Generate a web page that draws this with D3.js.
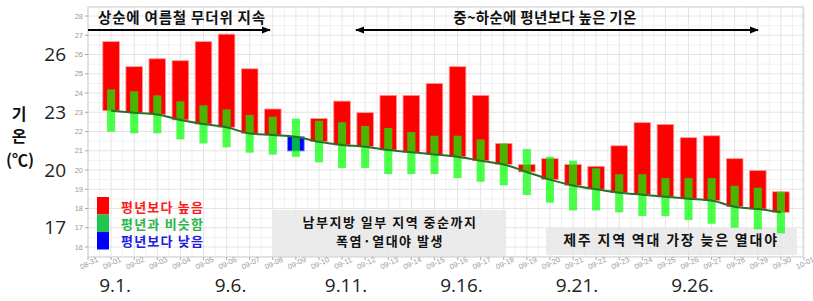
<!DOCTYPE html>
<html><head><meta charset="utf-8">
<script src="https://cdn.jsdelivr.net/npm/d3@7"></script>
<style>
html,body{margin:0;padding:0;background:#fff;}
svg{display:block;}
</style>
</head><body>
<svg id="c" width="813" height="301"></svg>
<script>
// ---- data ----
const dates = ["09-01","09-02","09-03","09-04","09-05","09-06","09-07","09-08","09-09","09-10",
  "09-11","09-12","09-13","09-14","09-15","09-16","09-17","09-18","09-19","09-20",
  "09-21","09-22","09-23","09-24","09-25","09-26","09-27","09-28","09-29","09-30"];
const observed = [26.67,25.37,25.78,25.68,26.67,27.06,25.26,23.17,20.99,22.67,
  23.58,22.98,23.88,23.88,24.50,25.37,23.88,21.38,20.29,20.59,
  20.29,20.19,21.26,22.46,22.37,21.68,21.78,20.59,19.98,18.87];
const normal = [23.08,22.98,22.89,22.60,22.39,22.22,21.90,21.82,21.73,21.47,
  21.30,21.21,21.04,20.92,20.81,20.69,20.48,20.29,19.90,19.50,
  19.20,19.00,18.82,18.72,18.61,18.51,18.41,18.09,17.97,17.80];
const simLow = [21.99,21.91,21.91,21.59,21.38,21.18,20.90,20.80,20.69,20.40,
  20.10,20.10,19.79,19.79,19.79,19.58,19.39,19.20,18.70,18.30,
  17.90,17.90,17.80,17.60,17.60,17.40,17.21,17.00,16.92,16.71];
const simHigh = [24.19,24.09,23.88,23.57,23.36,23.15,22.86,22.77,22.67,22.56,
  22.48,22.29,22.18,21.97,21.78,21.78,21.59,21.38,21.09,20.69,
  20.48,20.09,19.78,19.78,19.58,19.58,19.58,19.18,19.08,18.87];
const tickLabels = ["08-31","09-01","09-02","09-03","09-04","09-05","09-06","09-07","09-08","09-09","09-10",
  "09-11","09-12","09-13","09-14","09-15","09-16","09-17","09-18","09-19","09-20",
  "09-21","09-22","09-23","09-24","09-25","09-26","09-27","09-28","09-29","09-30","10-01"];
const yTicks = [16,17,18,19,20,21,22,23,24,25,26,27,28];
const bigYLabels = [26,23,20,17];
const bigXLabels = [{d:"09-01",t:"9.1."},{d:"09-06",t:"9.6."},{d:"09-11",t:"9.11."},{d:"09-16",t:"9.16."},{d:"09-21",t:"9.21."},{d:"09-26",t:"9.26."}];
const legendItems = [{t:"평년보다 높음",c:"#ff0000",tc:"#ff1a1a"},{t:"평년과 비슷함",c:"#1ec850",tc:"#2ab54c"},{t:"평년보다 낮음",c:"#0000ff",tc:"#2020e0"}];
const noteTop1 = "상순에 여름철 무더위 지속";
const noteTop2 = "중~하순에 평년보다 높은 기온";
const noteBox1 = ["남부지방 일부 지역 중순까지","폭염·열대야 발생"];
const noteBox2 = "제주 지역 역대 가장 늦은 열대야";

// ---- scales ----
const parse = s => d3.timeParse("%Y-%m-%d")("2023-" + s);
const L = 88, R = 804, T = 7, B = 257;
const x = d3.scaleTime().domain([parse("08-31"), parse("10-01")]).range([L, R]);
const y = d3.scaleLinear().domain([15.48, 28.47]).range([B, T]);
const dayW = x(parse("09-02")) - x(parse("09-01"));

const svg = d3.select("#c");
const KR = "'Noto Sans CJK KR','Noto Sans',sans-serif";

// grid
const g = svg.append("g");
const halfDays = d3.range(0, 31.01, 0.5);
g.selectAll("line.vg").data(halfDays).join("line")
  .attr("x1", d => L + d * dayW).attr("x2", d => L + d * dayW)
  .attr("y1", T).attr("y2", B)
  .attr("stroke", d => d % 1 === 0 ? "#e4e4e4" : "#f0f0f0").attr("stroke-width", 1);
const halfDeg = d3.range(15.5, 28.51, 0.5);
g.selectAll("line.hg").data(halfDeg).join("line")
  .attr("x1", L).attr("x2", R)
  .attr("y1", d => y(d)).attr("y2", d => y(d))
  .attr("stroke", d => d % 1 === 0 ? "#e4e4e4" : "#f0f0f0").attr("stroke-width", 1);

// grey annotation boxes (behind bars)
svg.append("rect").attr("x", 273).attr("y", 210).attr("width", 233).attr("height", B - 210)
  .attr("fill", "#e8e8e8").attr("opacity", 0.85);
svg.append("rect").attr("x", 546).attr("y", 228).attr("width", 251).attr("height", 27)
  .attr("fill", "#e8e8e8").attr("opacity", 0.85);

// anomaly bars
const bw = dayW * 0.72;
svg.append("g").selectAll("rect").data(dates).join("rect")
  .attr("x", (d) => x(parse(d)) - bw / 2)
  .attr("width", bw)
  .attr("y", (d, i) => y(Math.max(observed[i], normal[i])))
  .attr("height", (d, i) => Math.abs(y(observed[i]) - y(normal[i])))
  .attr("fill", (d, i) => observed[i] >= normal[i] ? "#ff0000" : "#0000ff")
  .attr("stroke", (d, i) => observed[i] >= normal[i] ? "#ff9a9a" : "#8080ff")
  .attr("stroke-width", 0.8);

// similar range bars
const gw = dayW * 0.35;
svg.append("g").selectAll("rect").data(dates).join("rect")
  .attr("x", d => x(parse(d)) - gw / 2)
  .attr("width", gw)
  .attr("y", (d, i) => y(simHigh[i]))
  .attr("height", (d, i) => y(simLow[i]) - y(simHigh[i]))
  .attr("fill", "#00ff00").attr("opacity", 0.7);

// normal line
svg.append("path")
  .attr("d", d3.line().x(d => x(parse(d))).y((d, i) => y(normal[i])).curve(d3.curveMonotoneX)(dates))
  .attr("fill", "none").attr("stroke", "#2c6e2c").attr("stroke-width", 2);

// panel border
svg.append("rect").attr("x", L).attr("y", T).attr("width", 803 - L).attr("height", B - T)
  .attr("fill", "none").attr("stroke", "#cfcfcf").attr("stroke-width", 1);

// y axis small ticks
const ya = svg.append("g");
ya.selectAll("line").data(yTicks).join("line")
  .attr("x1", L - 3).attr("x2", L).attr("y1", d => y(d)).attr("y2", d => y(d))
  .attr("stroke", "#aaa");
ya.selectAll("text").data(yTicks).join("text")
  .attr("x", L - 5).attr("y", d => y(d)).attr("dy", "0.35em")
  .attr("text-anchor", "end").attr("font-family", "'Liberation Sans',Arial,sans-serif")
  .attr("font-size", 7.5).attr("fill", "#999").text(d => d);

// x axis small labels
const xa = svg.append("g");
xa.selectAll("line").data(tickLabels).join("line")
  .attr("x1", d => x(parse(d))).attr("x2", d => x(parse(d))).attr("y1", B).attr("y2", B + 3)
  .attr("stroke", "#aaa");
xa.selectAll("text").data(tickLabels).join("text")
  .attr("transform", d => `translate(${x(parse(d)) + 1},${B + 6}) rotate(-25)`)
  .attr("text-anchor", "middle").attr("dy", "0.35em")
  .attr("font-family", "'Liberation Sans',Arial,sans-serif")
  .attr("font-size", 7.5).attr("fill", "#9a9a9a").text(d => d);

// big y labels
svg.append("g").selectAll("text").data(bigYLabels).join("text")
  .attr("x", 66).attr("y", d => y(d)).attr("dy", "0.35em").attr("text-anchor", "end")
  .attr("font-family", "'Open Sans','Noto Sans',sans-serif").attr("font-size", 19).attr("fill", "#222")
  .text(d => d);

// big x labels
svg.append("g").selectAll("text").data(bigXLabels).join("text")
  .attr("x", d => x(parse(d.d)) + 4).attr("y", 285).attr("dy", "0.35em").attr("text-anchor", "middle")
  .attr("font-family", "'Open Sans','Noto Sans',sans-serif").attr("font-size", 19).attr("fill", "#222")
  .text(d => d.t);

// y title (vertical)
const yt = svg.append("g").attr("font-family", KR).attr("font-weight", 700).attr("fill", "#111").attr("text-anchor", "middle");
yt.append("text").attr("x", 19).attr("y", 114).attr("dy", "0.35em").attr("font-size", 16).text("기");
yt.append("text").attr("x", 19).attr("y", 136).attr("dy", "0.35em").attr("font-size", 16).text("온");
yt.append("text").attr("x", 20).attr("y", 160).attr("dy", "0.35em").attr("font-size", 16).text("(℃)");

// legend
const lg = svg.append("g");
legendItems.forEach((it, i) => {
  lg.append("rect").attr("x", 97).attr("y", 197 + i * 17.5).attr("width", 12).attr("height", 17.5).attr("fill", it.c);
  lg.append("text").attr("x", 121).attr("y", 207 + i * 17.3).attr("dy", "0.35em")
    .attr("font-family", KR).attr("font-weight", 700).attr("font-size", 13).attr("letter-spacing", 1.2)
    .attr("fill", it.tc).text(it.t);
});

// arrows
const defs = svg.append("defs");
defs.append("marker").attr("id", "ah").attr("viewBox", "0 0 10 10").attr("refX", 9).attr("refY", 5)
  .attr("markerWidth", 4.5).attr("markerHeight", 4.5).attr("orient", "auto-start-reverse")
  .attr("markerUnits", "strokeWidth")
  .append("path").attr("d", "M0,1 L10,5 L0,9 z").attr("fill", "#000");
svg.append("line").attr("x1", 88).attr("x2", 270).attr("y1", 30).attr("y2", 30)
  .attr("stroke", "#000").attr("stroke-width", 2).attr("marker-end", "url(#ah)");
svg.append("line").attr("x1", 356).attr("x2", 758).attr("y1", 30).attr("y2", 30)
  .attr("stroke", "#000").attr("stroke-width", 2).attr("marker-end", "url(#ah)").attr("marker-start", "url(#ah)");

// annotation texts
const at = svg.append("g").attr("font-family", KR).attr("font-weight", 700).attr("fill", "#111").attr("text-anchor", "middle");
at.append("text").attr("x", 182).attr("y", 18).attr("dy", "0.35em").attr("font-size", 14.5).attr("letter-spacing", 0.8).text(noteTop1);
at.append("text").attr("x", 545).attr("y", 18).attr("dy", "0.35em").attr("font-size", 14.5).attr("letter-spacing", 0.3).text(noteTop2);
at.append("text").attr("x", 390).attr("y", 222).attr("dy", "0.35em").attr("font-size", 13).attr("letter-spacing", 1.5).text(noteBox1[0]);
at.append("text").attr("x", 390).attr("y", 241).attr("dy", "0.35em").attr("font-size", 13).attr("letter-spacing", 1.5).text(noteBox1[1]);
at.append("text").attr("x", 671).attr("y", 240.5).attr("dy", "0.35em").attr("font-size", 14).attr("letter-spacing", 1.8).text(noteBox2);
</script>
</body></html>
